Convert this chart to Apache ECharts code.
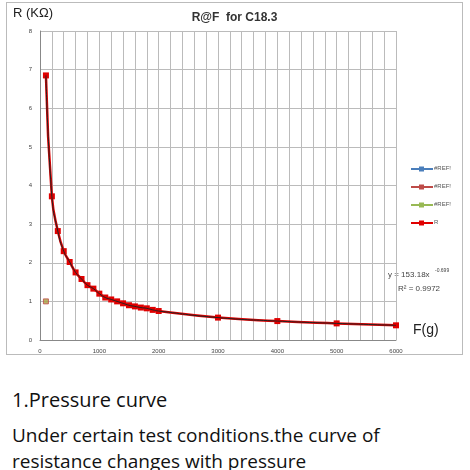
<!DOCTYPE html>
<html><head><meta charset="utf-8">
<script src="https://cdn.jsdelivr.net/npm/echarts@6/dist/echarts.min.js"></script>
<style>
body{margin:0;background:#fff;font-family:"Open Sans",sans-serif}
#chart_div{position:absolute;left:6px;top:2px;width:457px;height:353px;border:1px solid #bbb;box-sizing:border-box}
#t1{position:absolute;left:12px;top:386px;font-size:20px;color:#111}
#t2{position:absolute;left:12px;top:422px;font-size:19px;line-height:26px;color:#111;width:455px}
</style></head><body>
<div id="chart_div"></div>
<div id="t1">1.Pressure curve</div>
<div id="t2">Under certain test conditions.the curve of resistance changes with pressure</div>
<script>
// 测量数据 F(g) -> R(KΩ)
const forces = [100,200,300,400,500,600,700,800,900,1000,1100,1200,1300,1400,1500,1600,1700,1800,1900,2000,3000,4000,5000,6000]
const resist = [6.85,3.72,2.82,2.3,2.02,1.75,1.58,1.42,1.33,1.2,1.1,1.05,1.0,0.95,0.9,0.87,0.84,0.82,0.78,0.75,0.58,0.49,0.43,0.38]
const refPoint = [[100, 1]]
const legendNames = ['#REF!', '#REF!', '#REF!', 'R']
const legendColors = ['#4a7ebb', '#be4b48', '#98b954', '#e00000']

let pts = forces.map((f, i) => [f, resist[i]])

let legendItems = []
legendNames.forEach((n, i) => {
  let y = 166 + i * 18
  legendItems.push({type: 'line', shape: {x1: 404, y1: y, x2: 426, y2: y}, style: {stroke: legendColors[i], lineWidth: 2}})
  legendItems.push({type: 'rect', shape: {x: 412, y: y - 2.5, width: 5, height: 5}, style: {fill: legendColors[i]}})
  legendItems.push({type: 'text', x: 427, y: y - 4, style: {text: n, fontSize: 6, fill: '#555'}})
})

var myChart = echarts.init(document.getElementById('chart_div'))
myChart.setOption({
  animation: false,
  grid: {left: 33, top: 28, width: 356, height: 309},
  title: {text: 'R@F  for C18.3', left: 'center', top: 4, textStyle: {fontSize: 12, fontWeight: 'bold', color: '#333'}},
  xAxis: {
    type: 'value', min: 0, max: 6000, interval: 1000,
    minorTick: {show: false, splitNumber: 5},
    minorSplitLine: {show: true, lineStyle: {color: '#bbb', width: 1}},
    splitLine: {lineStyle: {color: '#bbb'}},
    axisLine: {lineStyle: {color: '#888'}}, axisTick: {show: false},
    axisLabel: {fontSize: 6, color: '#444', formatter: v => String(v)}
  },
  yAxis: {
    type: 'value', min: 0, max: 8, interval: 1,
    splitLine: {lineStyle: {color: '#bbb'}},
    axisLine: {show: true, lineStyle: {color: '#888'}}, axisTick: {show: false},
    axisLabel: {fontSize: 6, color: '#444'}
  },
  graphic: [
    {type: 'text', left: 6, top: 4, style: {text: 'R (KΩ)', fontSize: 13, fill: '#222'}},
    {type: 'text', left: 406, top: 320, style: {text: 'F(g)', fontSize: 14, fill: '#222'}},
    {type: 'rect', shape: {x: 381, y: 263, width: 76, height: 30}, style: {fill: '#fff'}},
    {type: 'text', left: 381, top: 268, style: {text: 'y = 153.18x', fontSize: 8, fill: '#444'}},
    {type: 'text', left: 428, top: 265, style: {text: '-0.699', fontSize: 5, fill: '#444'}},
    {type: 'text', left: 391, top: 282, style: {text: 'R² = 0.9972', fontSize: 8, fill: '#444'}}
  ].concat(legendItems),
  series: [
    {type: 'line', data: pts, smooth: true, symbol: 'square', symbolSize: 6,
      lineStyle: {color: '#e00000', width: 2.5}, itemStyle: {color: '#e00000'}, z: 2},
    {type: 'line', data: pts, smooth: true, symbol: 'none',
      lineStyle: {color: '#222', width: 1}, z: 3},
    {type: 'scatter', data: refPoint, symbol: 'square', symbolSize: 5,
      itemStyle: {color: '#a8a040', borderColor: '#be4b48', borderWidth: 1}}
  ]
})
</script>
</body></html>
